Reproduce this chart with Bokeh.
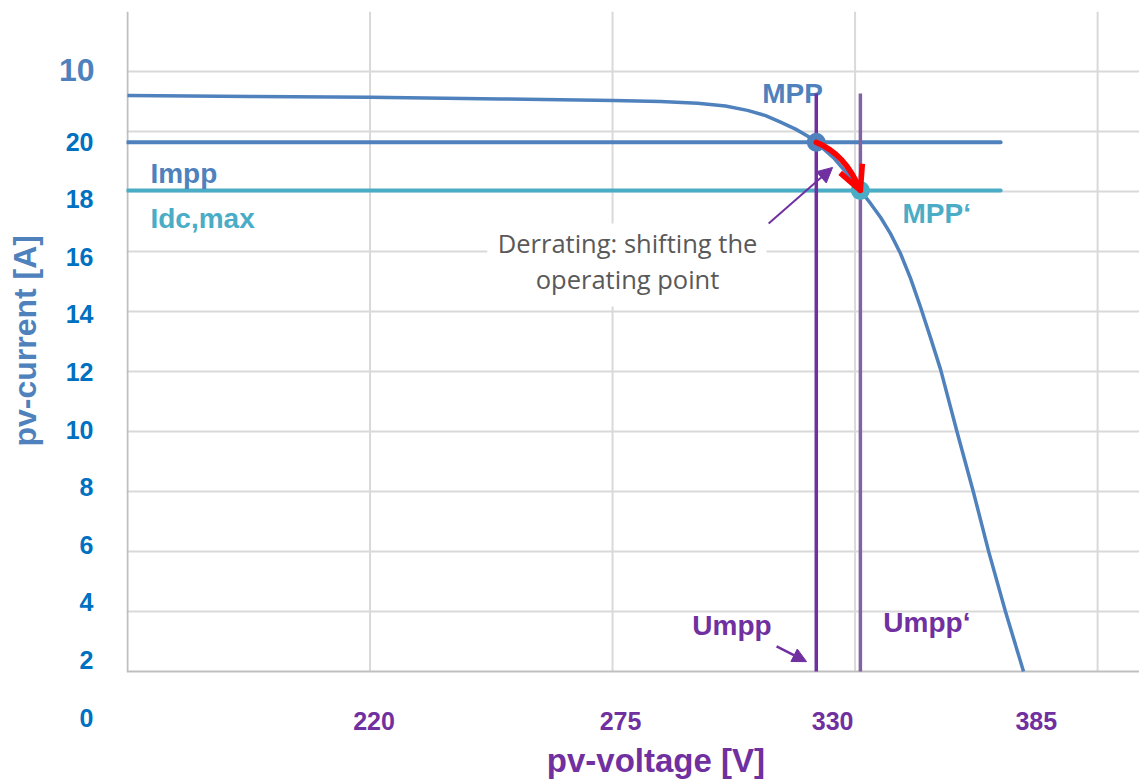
from bokeh.plotting import figure
from bokeh.models import FixedTicker, LinearAxis, Arrow, OpenHead, NormalHead
from bokeh.core.properties import value
from bokeh.embed import file_html
from bokeh.resources import INLINE

# ---------------- data ----------------
# I-V curve of the pv generator
voltage = [165.0, 192.9, 220.1, 249.6, 275.2, 285.9, 294.3, 300.6, 305.6, 309.7,
           313.1, 316.5, 319.2, 321.2, 325.1, 329.0, 331.2, 333.5, 335.8, 338.0,
           340.3, 342.6, 344.8, 347.1, 349.4, 353.1, 356.8, 360.3, 364.1, 368.2]
current = [21.60, 21.56, 21.54, 21.48, 21.42, 21.39, 21.33, 21.23, 21.08, 20.90,
           20.67, 20.43, 20.19, 19.97, 19.44, 18.75, 18.30, 17.85, 17.36, 16.81,
           16.11, 15.24, 14.27, 13.19, 12.08, 9.93, 7.85, 5.76, 3.68, 1.60]

# operating points
mpp_v, mpp_i = 321.2, 19.97      # MPP
mpp2_v, mpp2_i = 331.2, 18.30    # MPP'
impp = 19.97
idc_max = 18.30
umpp = 321.2
umpp2 = 331.2
hline_end_v = 363.0
vline_top_i = 21.67
base_i = 1.60

# grid
x_grid = [220, 275, 330, 385]
y_grid = [3.68, 5.76, 7.85, 9.93, 12.01, 14.10, 16.18, 18.26, 20.35, 22.43]

# tick labels
x_tick_pos = [220.9, 276.8, 324.9, 371.1]
x_tick_labels = ["220", "275", "330", "385"]
y_ticks = [0, 2, 4, 6, 8, 10, 12, 14, 16, 18, 20]
y_top_tick_pos = [22.47]
y_top_tick_label = ["10"]

x_start, x_end = 164.773, 394.5
y_start, y_end = -0.208, 24.514

BLUE = "#4f81bd"
CYAN = "#4bacc6"
PURPLE = "#7030a0"
PURPLE2 = "#8064a2"
TICKBLUE = "#0070c0"
GRID = "#d9d9d9"
AXIS = "#bfbfbf"
FONT = "Liberation Sans"
NB = "\u00a0"

p = figure(width=1139, height=783, x_range=(x_start, x_end), y_range=(y_start, y_end),
           output_backend="svg", toolbar_location=None,
           min_border_left=126, min_border_right=0, min_border_top=11, min_border_bottom=60)
p.outline_line_color = None
p.background_fill_color = "white"

# x axis
xa = p.xaxis[0]
xa.ticker = FixedTicker(ticks=x_tick_pos)
xa.major_label_overrides = dict(zip(x_tick_pos, x_tick_labels))
xa.major_label_text_font = FONT
xa.major_label_text_font_style = "bold"
xa.major_label_text_font_size = "25px"
xa.major_label_text_color = PURPLE
xa.major_label_standoff = -12
xa.axis_label = NB * 5 + "pv-voltage [V]"
xa.axis_label_text_font = FONT
xa.axis_label_text_font_style = "bold"
xa.axis_label_text_font_size = "33px"
xa.axis_label_text_color = PURPLE
xa.axis_label_standoff = 9

# y axis (regular labels)
ya = p.yaxis[0]
ya.ticker = FixedTicker(ticks=y_ticks)
ya.major_label_text_font = FONT
ya.major_label_text_font_style = "bold"
ya.major_label_text_font_size = "25px"
ya.major_label_text_color = TICKBLUE
ya.major_label_standoff = 33

# outer y axis: odd top label and title
ya2 = LinearAxis(ticker=FixedTicker(ticks=y_top_tick_pos),
                 major_label_overrides=dict(zip(y_top_tick_pos, y_top_tick_label)))
ya2.major_label_text_font = FONT
ya2.major_label_text_font_style = "bold"
ya2.major_label_text_font_size = "32px"
ya2.major_label_text_color = BLUE
ya2.major_label_standoff = -32
ya2.axis_label = NB * 6 + "pv-current [A]"
ya2.axis_label_text_font = FONT
ya2.axis_label_text_font_style = "bold"
ya2.axis_label_text_font_size = "32px"
ya2.axis_label_text_color = BLUE
ya2.axis_label_standoff = 13
p.add_layout(ya2, "left")

for ax in (xa, ya, ya2):
    ax.axis_line_color = None
    ax.major_tick_line_color = None
    ax.minor_tick_line_color = None
    ax.major_tick_out = 0
    ax.major_tick_in = 0
    ax.minor_tick_out = 0
    ax.minor_tick_in = 0

# grid
p.xgrid.visible = False
p.ygrid[0].ticker = FixedTicker(ticks=y_grid)
p.ygrid.grid_line_color = GRID
p.ygrid.grid_line_width = 2

p.segment(x0=x_grid, y0=[base_i] * len(x_grid), x1=x_grid, y1=[y_end] * len(x_grid),
          line_color=GRID, line_width=2)
p.segment(x0=[165, x_start], y0=[base_i, base_i], x1=[165, x_end], y1=[y_end, base_i],
          line_color=AXIS, line_width=2)

# white box behind annotation text
p.quad(left=[246.6], right=[309.9], bottom=[14.27], top=[17.15],
       fill_color="white", line_color=None)

# I-V curve
p.line(voltage, current, line_color=BLUE, line_width=3.5, line_join="round")

# Impp and Idc,max
p.segment(x0=[165], y0=[impp], x1=[hline_end_v], y1=[impp],
          line_color=BLUE, line_width=4, line_cap="round")
p.segment(x0=[165], y0=[idc_max], x1=[hline_end_v], y1=[idc_max],
          line_color=CYAN, line_width=4, line_cap="round")

def txt(x, y, s, color, size="28px", align="left", font=FONT, style="bold"):
    p.text(x=[x], y=[y], text=[s], text_font=value(font), text_font_style=style,
           text_font_size=size, text_color=color, text_align=align, text_baseline="middle")

# MPP label (under vertical line)
txt(315.8, 21.68, "MPP", BLUE, align="center")

# Umpp verticals
p.segment(x0=[umpp], y0=[vline_top_i], x1=[umpp], y1=[base_i], line_color=PURPLE, line_width=3.5)
p.segment(x0=[umpp2], y0=[vline_top_i], x1=[umpp2], y1=[base_i], line_color=PURPLE2, line_width=3.5)

# operating points
p.scatter([mpp_v], [mpp_i], size=19, fill_color=BLUE, line_color=None)
p.scatter([mpp2_v], [mpp2_i], size=19, fill_color=CYAN, line_color=None)

# red derating arrow
ctrl_v, ctrl_i = 327.8, 19.57
p.quadratic(x0=[mpp_v], y0=[mpp_i], x1=[mpp2_v], y1=[mpp2_i], cx=[ctrl_v], cy=[ctrl_i],
            line_color="#ff0000", line_width=5.5, line_cap="round")
p.add_layout(Arrow(end=OpenHead(size=24, line_color="#ff0000", line_width=5.5),
                   x_start=ctrl_v, y_start=ctrl_i, x_end=mpp2_v, y_end=mpp2_i, line_alpha=0))

# purple pointer arrows
p.add_layout(Arrow(end=NormalHead(size=15, fill_color=PURPLE, line_color=PURPLE, line_width=1),
                   x_start=310.4, y_start=17.15, x_end=324.9, y_end=19.10,
                   line_color=PURPLE, line_width=2))
p.add_layout(Arrow(end=NormalHead(size=14, fill_color=PURPLE, line_color=PURPLE, line_width=1),
                   x_start=312.2, y_start=2.47, x_end=319.0, y_end=1.94,
                   line_color=PURPLE, line_width=2.5))

# texts
txt(340.75, 17.50, "MPP\u2018", CYAN)
txt(170.2, 18.89, "Impp", BLUE)
txt(170.2, 17.33, "Idc,max", CYAN)
txt(293.1, 3.19, "Umpp", PURPLE)
txt(336.4, 3.30, "Umpp\u2018", PURPLE)
txt(278.4, 16.46, "Derrating: shifting the", "#595959", size="25.5px", align="center",
    font="Open Sans", style="normal")
txt(278.4, 15.21, "operating point", "#595959", size="25.5px", align="center",
    font="Open Sans", style="normal")

open("out.html", "w").write(file_html(p, INLINE))
